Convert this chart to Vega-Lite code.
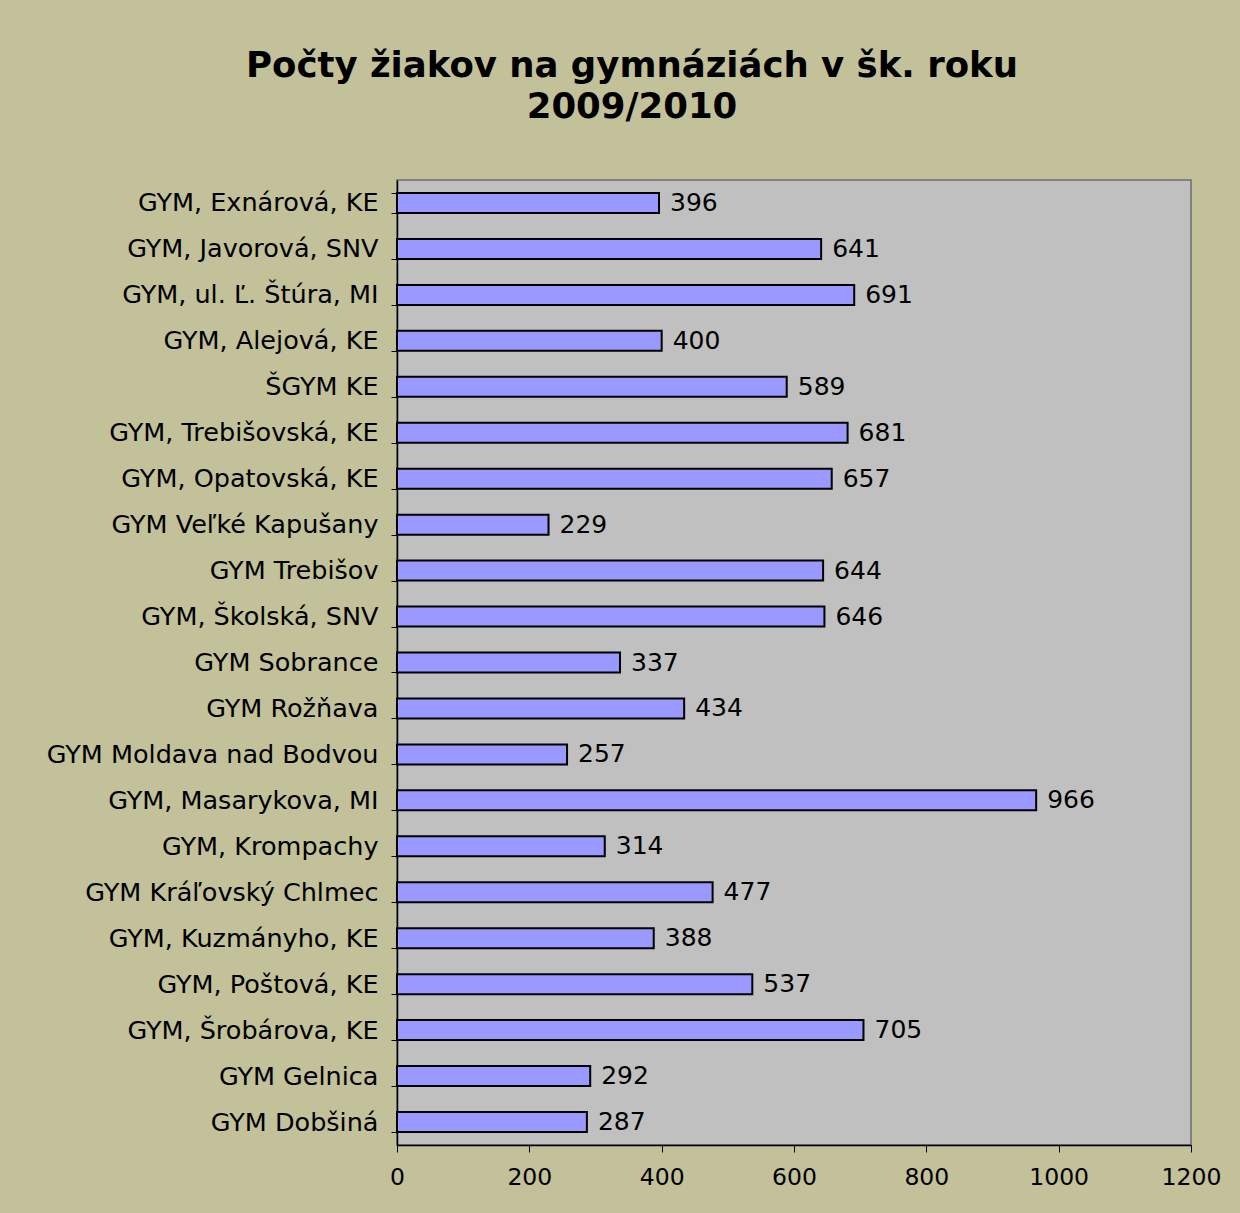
{
  "$schema": "https://vega.github.io/schema/vega-lite/v6.json",
  "autosize": {"type": "none"},
  "padding": {"left": 397, "top": 180, "right": 49, "bottom": 68},
  "width": 794,
  "height": 965,
  "background": "#C2C19A",
  "title": {
    "text": ["Počty žiakov na gymnáziách v šk. roku", "2009/2010"],
    "font": "DejaVu Sans",
    "fontSize": 35.5,
    "fontWeight": "bold",
    "color": "#000000",
    "anchor": "middle",
    "dx": -162,
    "offset": 43,
    "lineHeight": 41
  },
  "data": {
    "values": [
      {"school": "GYM, Exnárová, KE", "students": 396},
      {"school": "GYM, Javorová, SNV", "students": 641},
      {"school": "GYM, ul. Ľ. Štúra, MI", "students": 691},
      {"school": "GYM, Alejová, KE", "students": 400},
      {"school": "ŠGYM KE", "students": 589},
      {"school": "GYM, Trebišovská, KE", "students": 681},
      {"school": "GYM, Opatovská, KE", "students": 657},
      {"school": "GYM Veľké Kapušany", "students": 229},
      {"school": "GYM Trebišov", "students": 644},
      {"school": "GYM, Školská, SNV", "students": 646},
      {"school": "GYM Sobrance", "students": 337},
      {"school": "GYM Rožňava", "students": 434},
      {"school": "GYM Moldava nad Bodvou", "students": 257},
      {"school": "GYM, Masarykova, MI", "students": 966},
      {"school": "GYM, Krompachy", "students": 314},
      {"school": "GYM Kráľovský Chlmec", "students": 477},
      {"school": "GYM, Kuzmányho, KE", "students": 388},
      {"school": "GYM, Poštová, KE", "students": 537},
      {"school": "GYM, Šrobárova, KE", "students": 705},
      {"school": "GYM Gelnica", "students": 292},
      {"school": "GYM Dobšiná", "students": 287}
    ]
  },
  "encoding": {
    "y": {
      "field": "school",
      "type": "nominal",
      "sort": null,
      "scale": {"paddingInner": 0.565, "paddingOuter": 0.2825},
      "axis": {
        "title": null,
        "labelFont": "DejaVu Sans",
        "labelFontSize": 25.5,
        "labelColor": "#000000",
        "labelPadding": 13,
        "labelLimit": 400,
        "tickBand": "extent",
        "tickSize": 6,
        "tickColor": "#000000",
        "domainColor": "#000000",
        "domainWidth": 1.5
      }
    },
    "x": {
      "field": "students",
      "type": "quantitative",
      "scale": {"domain": [0, 1200], "nice": false},
      "axis": {
        "title": null,
        "values": [0, 200, 400, 600, 800, 1000, 1200],
        "format": "d",
        "grid": false,
        "labelFont": "DejaVu Sans",
        "labelFontSize": 23.5,
        "labelColor": "#000000",
        "labelPadding": 13,
        "tickSize": 7,
        "tickColor": "#000000",
        "domainColor": "#000000",
        "domainWidth": 1.5,
        "labelFlush": false
      }
    }
  },
  "layer": [
    {
      "mark": {"type": "bar", "fill": "#9999FF", "stroke": "#000000", "strokeWidth": 2}
    },
    {
      "mark": {"type": "text", "align": "left", "baseline": "middle", "dx": 11, "font": "DejaVu Sans", "fontSize": 25, "color": "#000000"},
      "encoding": {"text": {"field": "students", "type": "quantitative"}}
    }
  ],
  "config": {
    "view": {"fill": "#C0C0C0", "stroke": "#808080", "strokeWidth": 2}
  }
}
